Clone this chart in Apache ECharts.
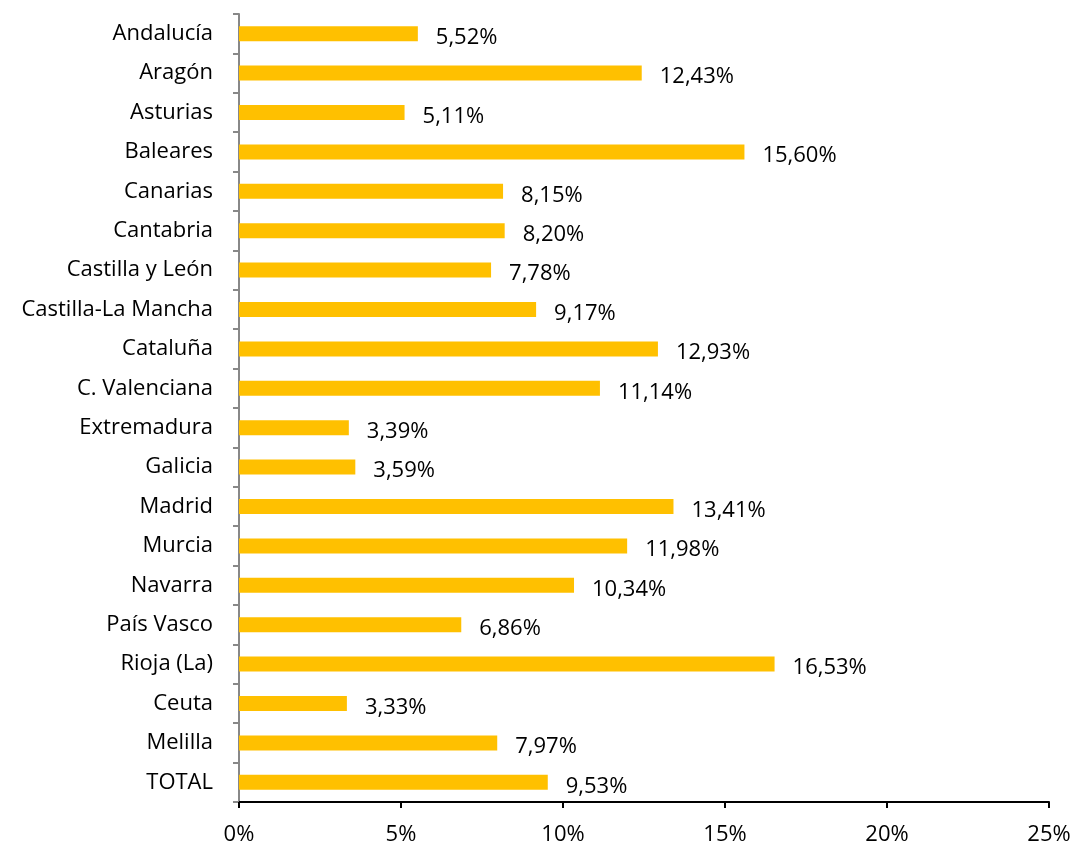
<!DOCTYPE html>
<html>
<head>
<meta charset="utf-8">
<script src="https://cdn.jsdelivr.net/npm/echarts@6/dist/echarts.min.js"></script>
<style>
  html,body{margin:0;padding:0;background:#fff}
  #chart{width:1078px;height:848px}
</style>
</head>
<body>
<div id="chart"></div>
<script>
// comunidades, de arriba a abajo
const regions = ['Andalucía','Aragón','Asturias','Baleares','Canarias','Cantabria','Castilla y León',
  'Castilla-La Mancha','Cataluña','C. Valenciana','Extremadura','Galicia','Madrid','Murcia',
  'Navarra','País Vasco','Rioja (La)','Ceuta','Melilla','TOTAL']
const pct = [5.52,12.43,5.11,15.60,8.15,8.20,7.78,9.17,12.93,11.14,3.39,3.59,13.41,11.98,10.34,6.86,16.53,3.33,7.97,9.53]
const xTicks = [0,5,10,15,20,25]

const font = '"Open Sans", sans-serif'
const myChart = echarts.init(document.querySelector('#chart'))
const option = {
  animation:false,
  grid:{left:239,right:29,top:14,bottom:46},
  xAxis:{
    type:'value',
    min:xTicks[0],
    max:xTicks[xTicks.length-1],
    interval:5,
    axisLine:{show:true,lineStyle:{color:'#000',width:2}},
    axisTick:{show:true,length:6,lineStyle:{color:'#000',width:2}},
    splitLine:{show:false},
    axisLabel:{formatter:v=>v+'%',fontFamily:font,fontSize:22,color:'#000',margin:22}
  },
  yAxis:{
    type:'category',
    inverse:true,
    data:regions,
    axisLine:{show:true,lineStyle:{color:'#888',width:2}},
    axisTick:{show:true,length:6,lineStyle:{color:'#888',width:2}},
    axisLabel:{fontFamily:font,fontSize:22,color:'#000',margin:26,padding:[4,0,0,0]}
  },
  series:[{
    type:'bar',
    data:pct,
    barWidth:15,
    itemStyle:{color:'#FFC000'},
    label:{
      show:true,
      position:'right',
      distance:18,
      offset:[0,4],
      fontFamily:font,
      fontSize:22,
      color:'#000',
      formatter:p=>p.value.toFixed(2).replace('.',',')+'%'
    }
  }]
}
myChart.setOption(option)
</script>
</body>
</html>
